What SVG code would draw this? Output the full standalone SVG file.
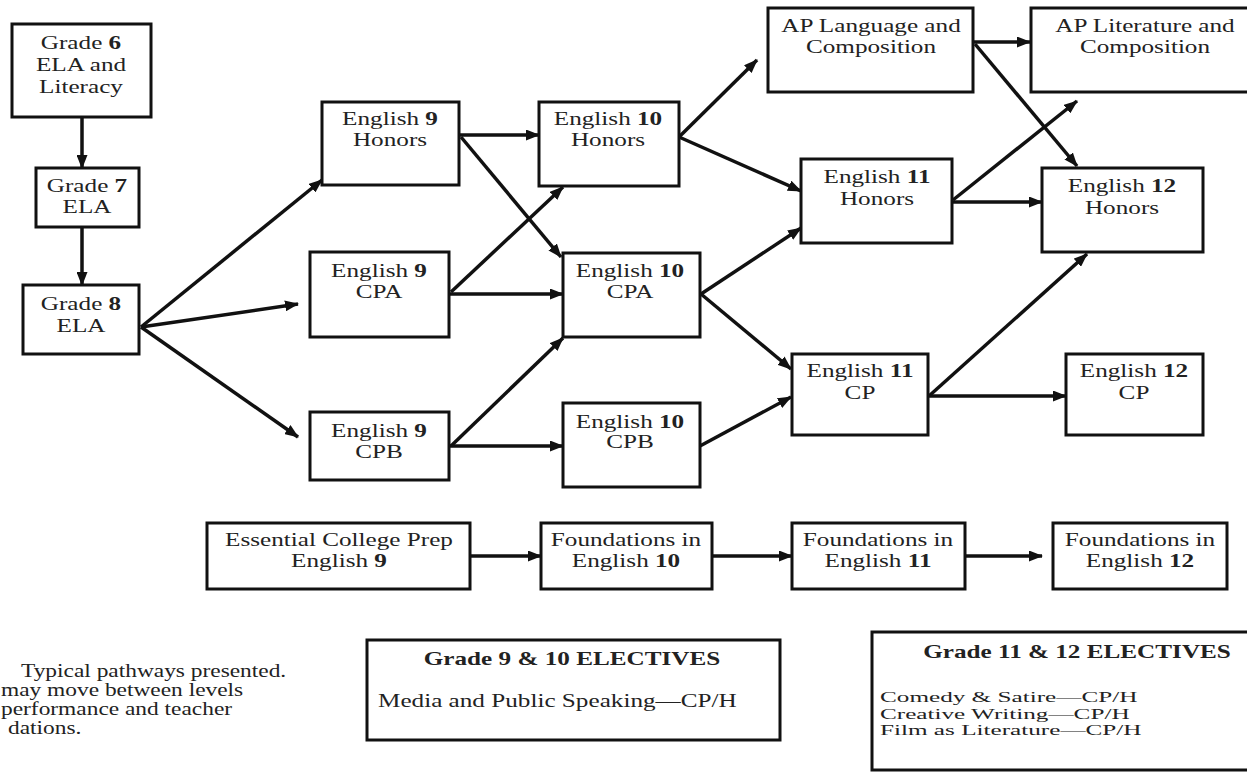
<svg xmlns="http://www.w3.org/2000/svg" width="1247" height="773" viewBox="0 0 1247 773">
<style>
.n rect{fill:#fff;stroke:#111;stroke-width:3}
text{font-family:"Liberation Serif","Times New Roman",serif;font-size:18px;fill:#222;text-anchor:middle}
.l{text-anchor:start}
.b{font-weight:bold}
.s{font-size:15px}
.c line{stroke:#111;stroke-width:3.5;marker-end:url(#ah)}
</style>
<defs>
<marker id="ah" markerUnits="userSpaceOnUse" markerWidth="14" markerHeight="11" refX="13" refY="5.5" orient="auto">
<path d="M0,0 L14,5.5 L0,11 z" fill="#111"/>
</marker>
</defs>
<rect width="1247" height="773" fill="#fff"/>
<g class="c">
<line x1="82" y1="117" x2="82" y2="168"/>
<line x1="82" y1="227" x2="82" y2="285"/>
<line x1="141" y1="327" x2="322" y2="180"/>
<line x1="141" y1="327" x2="298" y2="304"/>
<line x1="141" y1="327" x2="298" y2="437"/>
<line x1="459" y1="135" x2="539" y2="135"/>
<line x1="461" y1="137" x2="561" y2="257"/>
<line x1="451" y1="292" x2="563" y2="187"/>
<line x1="449" y1="294" x2="563" y2="294"/>
<line x1="451" y1="446" x2="563" y2="338"/>
<line x1="449" y1="446" x2="563" y2="446"/>
<line x1="679" y1="137" x2="757" y2="60"/>
<line x1="679" y1="137" x2="801" y2="191"/>
<line x1="701" y1="294" x2="801" y2="228"/>
<line x1="701" y1="294" x2="791" y2="369"/>
<line x1="700" y1="446" x2="791" y2="397"/>
<line x1="973" y1="42" x2="1030" y2="42"/>
<line x1="975" y1="44" x2="1077" y2="166"/>
<line x1="953" y1="200" x2="1077" y2="101"/>
<line x1="952" y1="202" x2="1042" y2="202"/>
<line x1="929" y1="396" x2="1087" y2="254"/>
<line x1="928" y1="396" x2="1066" y2="396"/>
<line x1="470" y1="556" x2="541" y2="556"/>
<line x1="712" y1="556" x2="792" y2="556"/>
<line x1="965" y1="556" x2="1042" y2="556"/>
</g>
<g id="grade6" class="n"><rect x="12" y="24" width="139" height="93"/>
<text transform="translate(81,49) scale(1.4,1)">Grade <tspan class="b">6</tspan></text>
<text transform="translate(81,71) scale(1.4,1)">ELA and</text>
<text transform="translate(81,93) scale(1.4,1)">Literacy</text></g>
<g id="grade7" class="n"><rect x="36" y="168" width="103" height="59"/>
<text transform="translate(87,192) scale(1.4,1)">Grade <tspan class="b">7</tspan></text>
<text transform="translate(87,213) scale(1.4,1)">ELA</text></g>
<g id="grade8" class="n"><rect x="23" y="285" width="116" height="69"/>
<text transform="translate(81,310) scale(1.4,1)">Grade <tspan class="b">8</tspan></text>
<text transform="translate(81,332) scale(1.4,1)">ELA</text></g>
<g id="eng9h" class="n"><rect x="322" y="102" width="137" height="83"/>
<text transform="translate(390,125) scale(1.4,1)">English <tspan class="b">9</tspan></text>
<text transform="translate(390,146) scale(1.4,1)">Honors</text></g>
<g id="eng9cpa" class="n"><rect x="310" y="252" width="139" height="85"/>
<text transform="translate(379,277) scale(1.4,1)">English <tspan class="b">9</tspan></text>
<text transform="translate(379,298) scale(1.4,1)">CPA</text></g>
<g id="eng9cpb" class="n"><rect x="310" y="412" width="139" height="68"/>
<text transform="translate(379,437) scale(1.4,1)">English <tspan class="b">9</tspan></text>
<text transform="translate(379,458) scale(1.4,1)">CPB</text></g>
<g id="eng10h" class="n"><rect x="539" y="102" width="140" height="84"/>
<text transform="translate(608,125) scale(1.4,1)">English <tspan class="b">10</tspan></text>
<text transform="translate(608,146) scale(1.4,1)">Honors</text></g>
<g id="eng10cpa" class="n"><rect x="563" y="253" width="137" height="84"/>
<text transform="translate(630,277) scale(1.4,1)">English <tspan class="b">10</tspan></text>
<text transform="translate(630,298) scale(1.4,1)">CPA</text></g>
<g id="eng10cpb" class="n"><rect x="563" y="403" width="137" height="84"/>
<text transform="translate(630,428) scale(1.4,1)">English <tspan class="b">10</tspan></text>
<text transform="translate(630,448) scale(1.4,1)">CPB</text></g>
<g id="aplang" class="n"><rect x="768" y="8" width="205" height="84"/>
<text transform="translate(871,32) scale(1.4,1)">AP Language and</text>
<text transform="translate(871,53) scale(1.4,1)">Composition</text></g>
<g id="aplit" class="n"><rect x="1031" y="8" width="222" height="84"/>
<text transform="translate(1145,32) scale(1.4,1)">AP Literature and</text>
<text transform="translate(1145,53) scale(1.4,1)">Composition</text></g>
<g id="eng11h" class="n"><rect x="801" y="159" width="151" height="84"/>
<text transform="translate(877,183) scale(1.4,1)">English <tspan class="b">11</tspan></text>
<text transform="translate(877,205) scale(1.4,1)">Honors</text></g>
<g id="eng12h" class="n"><rect x="1042" y="168" width="161" height="84"/>
<text transform="translate(1122,192) scale(1.4,1)">English <tspan class="b">12</tspan></text>
<text transform="translate(1122,214) scale(1.4,1)">Honors</text></g>
<g id="eng11cp" class="n"><rect x="792" y="354" width="136" height="81"/>
<text transform="translate(860,377) scale(1.4,1)">English <tspan class="b">11</tspan></text>
<text transform="translate(860,399) scale(1.4,1)">CP</text></g>
<g id="eng12cp" class="n"><rect x="1066" y="354" width="137" height="81"/>
<text transform="translate(1134,377) scale(1.4,1)">English <tspan class="b">12</tspan></text>
<text transform="translate(1134,399) scale(1.4,1)">CP</text></g>
<g id="ecp9" class="n"><rect x="207" y="523" width="263" height="66"/>
<text transform="translate(339,546) scale(1.4,1)">Essential College Prep</text>
<text transform="translate(339,567) scale(1.4,1)">English <tspan class="b">9</tspan></text></g>
<g id="found10" class="n"><rect x="541" y="523" width="171" height="66"/>
<text transform="translate(626,546) scale(1.4,1)">Foundations in</text>
<text transform="translate(626,567) scale(1.4,1)">English <tspan class="b">10</tspan></text></g>
<g id="found11" class="n"><rect x="792" y="523" width="173" height="66"/>
<text transform="translate(878,546) scale(1.4,1)">Foundations in</text>
<text transform="translate(878,567) scale(1.4,1)">English <tspan class="b">11</tspan></text></g>
<g id="found12" class="n"><rect x="1053" y="523" width="174" height="66"/>
<text transform="translate(1140,546) scale(1.4,1)">Foundations in</text>
<text transform="translate(1140,567) scale(1.4,1)">English <tspan class="b">12</tspan></text></g>
<g id="elect910" class="n"><rect x="367" y="640" width="413" height="100"/>
<text class="b" transform="translate(572,665) scale(1.4,1)">Grade 9 &amp; 10 ELECTIVES</text>
<text class="l" transform="translate(378,707) scale(1.4,1)">Media and Public Speaking—CP/H</text></g>
<g id="elect1112" class="n"><rect x="872" y="632" width="380" height="138"/>
<text class="b" transform="translate(1077,658) scale(1.4,1)">Grade 11 &amp; 12 ELECTIVES</text>
<text class="l s" transform="translate(880,702) scale(1.68,1)">Comedy &amp; Satire—CP/H</text>
<text class="l s" transform="translate(880,718.5) scale(1.68,1)">Creative Writing—CP/H</text>
<text class="l s" transform="translate(880,735) scale(1.68,1)">Film as Literature—CP/H</text></g>
<g id="note">
<text class="l" transform="translate(21,677) scale(1.3,1)">Typical pathways presented.</text>
<text class="l" transform="translate(1,696) scale(1.3,1)">may move between levels</text>
<text class="l" transform="translate(1,715) scale(1.3,1)">performance and teacher</text>
<text class="l" transform="translate(8,734) scale(1.3,1)">dations.</text>
</g>
</svg>
